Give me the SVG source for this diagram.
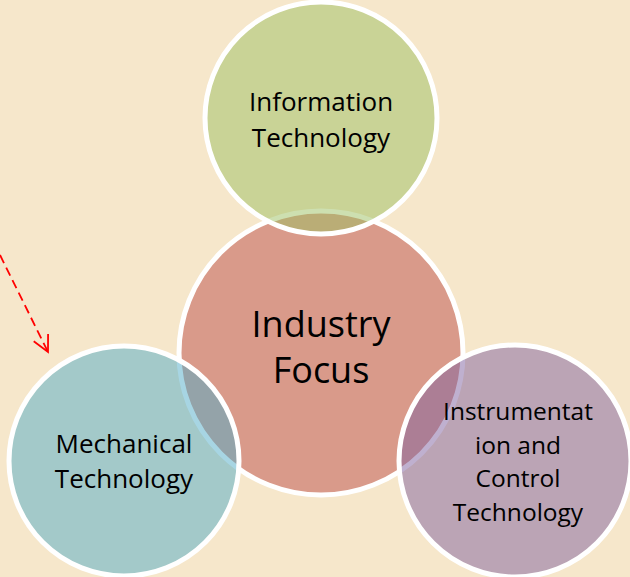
<svg xmlns="http://www.w3.org/2000/svg" width="630" height="577" viewBox="0 0 630 577">
<defs>
<style>
.node{stroke:#FFFFFF;stroke-width:5}
.lbl{font-family:"Open Sans","Liberation Sans",sans-serif;fill:#000000;text-anchor:middle}
.sm{font-size:26px}
.xs{font-size:24.5px}
.lg{font-size:36px}
</style>
<marker id="arr" viewBox="0 0 20 20" refX="18" refY="10" markerWidth="20" markerHeight="20" markerUnits="userSpaceOnUse" orient="auto">
<path d="M2,2 L18,10 L2,18" fill="none" stroke="#FF0000" stroke-width="1.8"/>
</marker>
</defs>
<rect x="0" y="0" width="630" height="577" fill="#F6E7CB"/>
<g id="industry-focus">
<circle class="node" cx="321" cy="353" r="142" fill="#D99A8A"/>
<text class="lbl lg" x="321" y="337">Industry</text>
<text class="lbl lg" x="321" y="383">Focus</text>
</g>
<g id="information-technology">
<circle class="node" cx="321" cy="118" r="116" fill="#9CBF61" fill-opacity="0.5"/>
<text class="lbl sm" x="321" y="111">Information</text>
<text class="lbl sm" x="321" y="147">Technology</text>
</g>
<g id="mechanical-technology">
<circle class="node" cx="124" cy="461" r="115" fill="#50ABC7" fill-opacity="0.5"/>
<text class="lbl sm" x="124" y="453">Mechanical</text>
<text class="lbl sm" x="124" y="488">Technology</text>
</g>
<g id="instrumentation-control">
<circle class="node" cx="515" cy="461" r="116" fill="#80619F" fill-opacity="0.5"/>
<text class="lbl xs" x="518" y="420">Instrumentat</text>
<text class="lbl xs" x="518" y="453.5">ion and</text>
<text class="lbl xs" x="518" y="487">Control</text>
<text class="lbl xs" x="518" y="520.5">Technology</text>
</g>
<g id="connectors">
<path d="M0,255 L48,352" fill="none" stroke="#FF0000" stroke-width="1.8" stroke-dasharray="9,5" marker-end="url(#arr)"/>
</g>
</svg>
